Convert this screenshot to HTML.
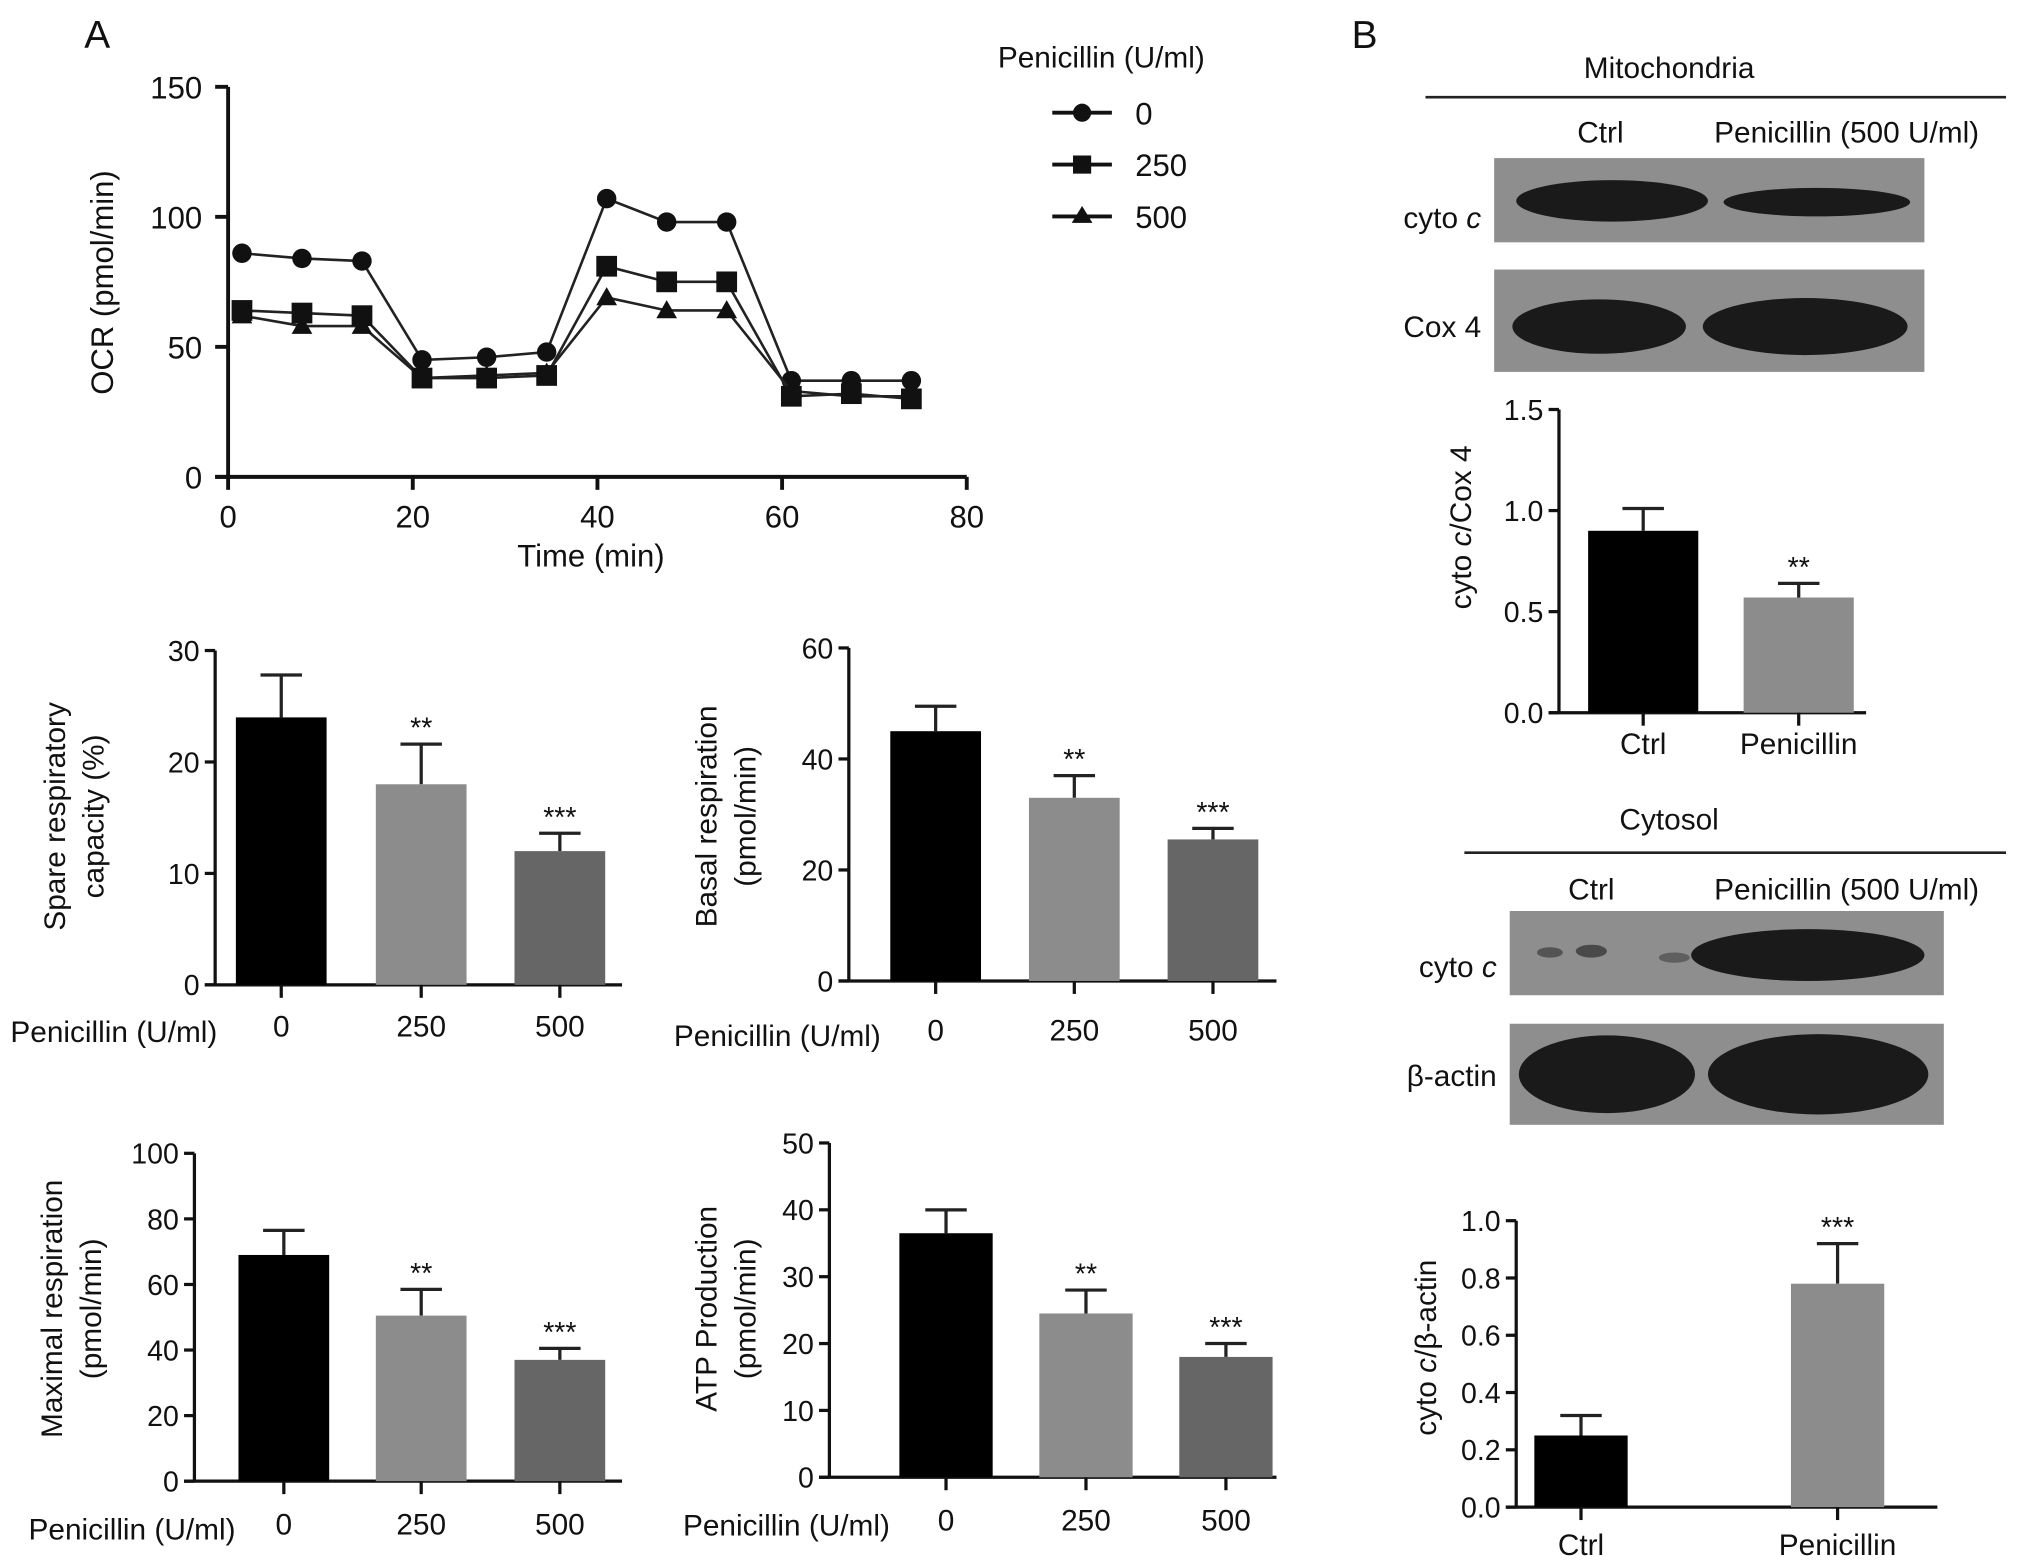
<!DOCTYPE html>
<html><head><meta charset="utf-8"><style>
html,body{margin:0;padding:0;background:#fff}
svg{display:block}
text{font-family:"Liberation Sans",sans-serif;fill:#111}
</style></head><body>
<svg id="fig" width="2032" height="1568" viewBox="0 0 1568 1210" xmlns="http://www.w3.org/2000/svg">
<text x="65" y="37" font-size="30">A</text>
<text x="1043" y="37" font-size="30">B</text>
<g id="ocr"></g>
<g id="legend"></g>
<g id="bars"></g>
<g id="blots"></g>
</svg>
<script>
const NS="http://www.w3.org/2000/svg";
function mk(p,tag,attrs,txt){const e=document.createElementNS(NS,tag);for(const k in attrs)e.setAttribute(k,attrs[k]);if(txt!==undefined)e.textContent=txt;p.appendChild(e);return e;}

// ---- OCR line chart data ----
const ocrTimes=[1.5,8,14.5,21,28,34.5,41,47.5,54,61,67.5,74];
const ocr0=[86,84,83,45,46,48,107,98,98,37,37,37];
const ocr250=[64,63,62,38,38,39,81,75,75,31,32,30];
const ocr500=[62,58,58,38,39,40,69,64,64,33,31,31];
const ocrXTicks=[0,20,40,60,80];
const ocrYTicks=[0,50,100,150];
const legendLabels=["0","250","500"];

// ---- bar chart data ----
const doseCats=["0","250","500"];
const spareVals=[24,18,12];
const spareErr=[3.8,3.6,1.6];
const spareSig=["","**","***"];
const spareTicks=[0,10,20,30];
const basalVals=[45,33,25.5];
const basalErr=[4.5,4,2];
const basalSig=["","**","***"];
const basalTicks=[0,20,40,60];
const maxVals=[69,50.5,37];
const maxErr=[7.5,8,3.5];
const maxSig=["","**","***"];
const maxTicks=[0,20,40,60,80,100];
const atpVals=[36.5,24.5,18];
const atpErr=[3.5,3.5,2];
const atpSig=["","**","***"];
const atpTicks=[0,10,20,30,40,50];
const cytoCats=["Ctrl","Penicillin"];
const mitoVals=[0.9,0.57];
const mitoErr=[0.11,0.07];
const mitoSig=["","**"];
const mitoTicks=["0.0","0.5","1.0","1.5"];
const cytoVals=[0.25,0.78];
const cytoErr=[0.07,0.14];
const cytoSig=["","***"];
const cytoTicks=["0.0","0.2","0.4","0.6","0.8","1.0"];

// ---- OCR chart ----
(function(){
 const g=document.getElementById('ocr');
 const X0=176,X1=746,Y0=368,Y1=67;
 const sx=t=>X0+(t-0)/(80)*(X1-X0), sy=v=>Y0-(v/150)*(Y0-Y1);
 let l=mk(g,'line',{x1:X0,y1:Y1,x2:X0,y2:Y0,stroke:'#111','stroke-width':3});
 
 l=mk(g,'line',{x1:X0-10,y1:Y0,x2:X1,y2:Y0,stroke:'#111','stroke-width':3});
 
 ocrYTicks.forEach(v=>{mk(g,'line',{x1:X0-10,y1:sy(v),x2:X0,y2:sy(v),stroke:'#111','stroke-width':3});
  const t=mk(g,'text',{x:X0-20,y:sy(v)+9,'font-size':24,'text-anchor':'end'},v);
  });
 ocrXTicks.forEach(v=>{mk(g,'line',{x1:sx(v),y1:Y0,x2:sx(v),y2:Y0+10,stroke:'#111','stroke-width':3});
  const t=mk(g,'text',{x:sx(v),y:Y0+39,'font-size':24,'text-anchor':'middle'},v);
  });
 let t=mk(g,'text',{x:456,y:437,'font-size':24,'text-anchor':'middle'},'Time (min)');
 
 t=mk(g,'text',{x:87,y:218,'font-size':24,'text-anchor':'middle',transform:'rotate(-90 87 218)'},'OCR (pmol/min)');
 
 const series=[[ocr0,'circle','series-0'],[ocr500,'tri','series-500'],[ocr250,'square','series-250']];
 series.forEach(([vals,shape,name])=>{
  const sg=mk(g,'g',{});
  
  mk(sg,'polyline',{points:vals.map((v,i)=>sx(ocrTimes[i])+','+sy(v)).join(' '),fill:'none',stroke:'#222','stroke-width':2});
  vals.forEach((v,i)=>{const x=sx(ocrTimes[i]),y=sy(v);let m;
   if(shape==='circle')m=mk(sg,'circle',{cx:x,cy:y,r:7.5,fill:'#111'});
   else if(shape==='square')m=mk(sg,'rect',{x:x-8,y:y-8,width:16,height:16,fill:'#111'});
   else m=mk(sg,'polygon',{points:`${x},${y-8} ${x-8},${y+6} ${x+8},${y+6}`,fill:'#111'});
   });
 });
 const lg=document.getElementById('legend');
 t=mk(lg,'text',{x:770,y:52,'font-size':23},'Penicillin (U/ml)');
 
 ['circle','square','tri'].forEach((s,i)=>{const y=87+i*40,x=835;
  const eg=mk(lg,'g',{});
  mk(eg,'line',{x1:812,y1:y,x2:858,y2:y,stroke:'#111','stroke-width':3});
  if(s==='circle')mk(eg,'circle',{cx:x,cy:y,r:7,fill:'#111'});
  else if(s==='square')mk(eg,'rect',{x:x-7,y:y-7,width:14,height:14,fill:'#111'});
  else mk(eg,'polygon',{points:`${x},${y-8} ${x-8},${y+5} ${x+8},${y+5}`,fill:'#111'});
  mk(eg,'text',{x:876,y:y+9,'font-size':24},legendLabels[i]);});
})();

// ---- bar charts ----
function barChart(o){
 const g=mk(document.getElementById('bars'),'g',{});
 
 const ticks=o.ticks.map(Number), max=ticks[ticks.length-1];
 const sy=v=>o.y0-(v/max)*(o.y0-o.y1);
 mk(g,'line',{x1:o.ax,y1:o.y1,x2:o.ax,y2:o.y0,stroke:'#111','stroke-width':2.5});
 mk(g,'line',{x1:o.ax-8,y1:o.y0,x2:o.axEnd,y2:o.y0,stroke:'#111','stroke-width':2.5});
 o.ticks.forEach(v=>{mk(g,'line',{x1:o.ax-8,y1:sy(+v),x2:o.ax,y2:sy(+v),stroke:'#111','stroke-width':2.5});
  const t=mk(g,'text',{x:o.ax-12,y:sy(+v)+8,'font-size':22,'text-anchor':'end'},v);
  });
 o.vals.forEach((v,i)=>{const cx=o.centers[i];
  mk(g,'line',{x1:cx,y1:sy(v),x2:cx,y2:sy(v+o.err[i]),stroke:'#222','stroke-width':2.5});
  mk(g,'line',{x1:cx-16,y1:sy(v+o.err[i]),x2:cx+16,y2:sy(v+o.err[i]),stroke:'#222','stroke-width':2.5});
  const r=mk(g,'rect',{x:cx-o.bw/2,y:sy(v),width:o.bw,height:o.y0-sy(v),fill:o.colors[i]});
  
  mk(g,'line',{x1:cx,y1:o.y0,x2:cx,y2:o.y0+10,stroke:'#111','stroke-width':2.5});
  if(o.sig[i]){const s=mk(g,'text',{x:cx,y:sy(v+o.err[i])-5,'font-size':22,'text-anchor':'middle',fill:'#444'},o.sig[i]);
   }
  const t=mk(g,'text',{x:cx+(o.lblDx||0),y:o.lblY,'font-size':23,'text-anchor':'middle'},o.cats[i]);
  });
 if(o.xtitle){const t=mk(g,'text',{x:o.xtx,y:o.lblY+4,'font-size':23},o.xtitle);
  }
 o.ytitle.forEach((s,k)=>{const x=o.ytx[k],y=o.yty;
  const t=mk(g,'text',{x:x,y:y,'font-size':23,'text-anchor':'middle',transform:`rotate(-90 ${x} ${y})`});
  
  if(Array.isArray(s)){s.forEach(p=>{const ts=mk(t,'tspan',{},p[0]);if(p[1])ts.setAttribute('font-style','italic');});}else t.textContent=s;});
}
const C3=['#000','#8c8c8c','#666'];
barChart({name:'spare-capacity-chart',ax:166,axEnd:480,y0:760,y1:502,ticks:spareTicks,vals:spareVals,err:spareErr,sig:spareSig,cats:doseCats,centers:[217,325,432],bw:70,colors:C3,lblY:800,xtitle:'Penicillin (U/ml)',xtx:8,ytitle:['Spare respiratory','capacity (%)'],ytx:[50,80],yty:630});
barChart({name:'basal-respiration-chart',ax:655,axEnd:985,y0:757,y1:500,ticks:basalTicks,vals:basalVals,err:basalErr,sig:basalSig,cats:doseCats,centers:[722,829,936],bw:70,colors:C3,lblY:803,xtitle:'Penicillin (U/ml)',xtx:520,ytitle:['Basal respiration','(pmol/min)'],ytx:[553,583],yty:630});
barChart({name:'maximal-respiration-chart',ax:150,axEnd:480,y0:1143,y1:890,ticks:maxTicks,vals:maxVals,err:maxErr,sig:maxSig,cats:doseCats,centers:[219,325,432],bw:70,colors:C3,lblY:1184,xtitle:'Penicillin (U/ml)',xtx:22,ytitle:['Maximal respiration','(pmol/min)'],ytx:[48,78],yty:1010});
barChart({name:'atp-production-chart',ax:640,axEnd:985,y0:1140,y1:882,ticks:atpTicks,vals:atpVals,err:atpErr,sig:atpSig,cats:doseCats,centers:[730,838,946],bw:72,colors:C3,lblY:1181,xtitle:'Penicillin (U/ml)',xtx:527,ytitle:['ATP Production','(pmol/min)'],ytx:[553,583],yty:1010});
barChart({name:'mito-cytoc-cox4-chart',ax:1203,axEnd:1440,y0:550,y1:316,ticks:mitoTicks,vals:mitoVals,err:mitoErr,sig:mitoSig,cats:cytoCats,centers:[1268,1388],bw:85,colors:['#000','#8c8c8c'],lblY:582,ytitle:[[['cyto '],['c',1],['/Cox 4']]],ytx:[1135],yty:407});
barChart({name:'cytosol-cytoc-actin-chart',ax:1170,axEnd:1495,y0:1163,y1:942,ticks:cytoTicks,vals:cytoVals,err:cytoErr,sig:cytoSig,cats:cytoCats,centers:[1220,1418],bw:72,colors:['#000','#8c8c8c'],lblY:1200,ytitle:[[['cyto '],['c',1],['/β-actin']]],ytx:[1108],yty:1040});

// ---- blots ----
(function(){
 const g=document.getElementById('blots');
 function txt(x,y,s,anchor,name,ital){const t=mk(g,'text',{x:x,y:y,'font-size':23,'text-anchor':anchor||'start'});
  
  if(ital){mk(t,'tspan',{},s);mk(t,'tspan',{'font-style':'italic'},' c');}else t.textContent=s;}
 txt(1288,60,'Mitochondria','middle','mitochondria-title');
 mk(g,'line',{x1:1100,y1:75,x2:1548,y2:75,stroke:'#222','stroke-width':2});
 txt(1235,110,'Ctrl','middle','lane-label-ctrl');txt(1425,110,'Penicillin (500 U/ml)','middle','lane-label-penicillin');
 txt(1288,640,'Cytosol','middle','cytosol-title');
 mk(g,'line',{x1:1130,y1:658,x2:1548,y2:658,stroke:'#222','stroke-width':2});
 txt(1228,694,'Ctrl','middle','lane-label-ctrl');txt(1425,694,'Penicillin (500 U/ml)','middle','lane-label-penicillin');
 function blot(x,y,w,h,name,bands){const b=mk(g,'g',{});
  mk(b,'rect',{x:x,y:y,width:w,height:h,fill:'#8e8e8e'});
  bands.forEach(bd=>mk(b,'ellipse',{cx:bd[0],cy:bd[1],rx:bd[2],ry:bd[3],fill:'#1a1a1a',opacity:bd[4]||1}));}
 blot(1153,122,332,65,'blot-mito-cytoc',[[1244,155,74,16],[1402,156,72,11]]);
 txt(1143,176,'cyto','end','blot-label-cytoc',1);
 blot(1153,208,332,79,'blot-mito-cox4',[[1234,252,67,21],[1393,252,79,22]]);
 txt(1143,260,'Cox 4','end','blot-label-cox4');
 blot(1165,703,335,65,'blot-cytosol-cytoc',[[1196,735,10,4,0.5],[1228,734,12,5,0.6],[1292,739,12,4,0.4],[1395,737,90,20]]);
 txt(1155,754,'cyto','end','blot-label-cytoc',1);
 blot(1165,790,335,78,'blot-cytosol-actin',[[1240,829,68,30],[1403,829,85,31]]);
 txt(1155,838,'β-actin','end','blot-label-actin');
})();
</script>
</body></html>
